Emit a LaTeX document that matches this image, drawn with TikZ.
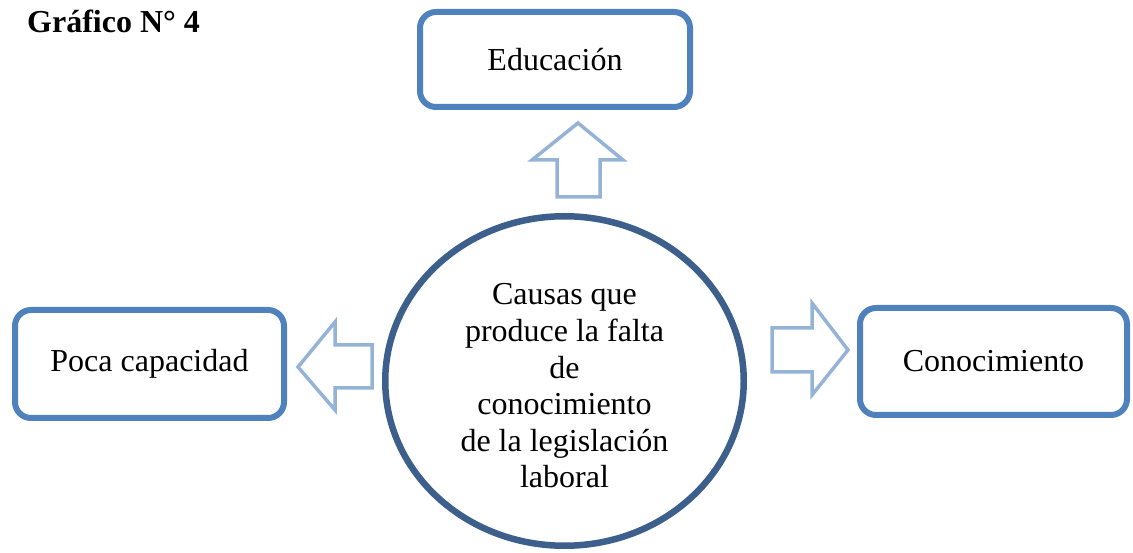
\documentclass[tikz,border=0pt]{standalone}
\usepackage{fontspec}
\setmainfont{Liberation Serif}
\usetikzlibrary{shapes.geometric}
\definecolor{boxblue}{RGB}{79,129,189}
\definecolor{arrowblue}{RGB}{149,179,215}
\definecolor{circblue}{RGB}{60,95,140}
\tikzset{
  rbox/.style={draw=boxblue, line width=6pt, rounded corners=16pt, fill=white,
    inner sep=0pt, font=\fontsize{32}{36}\selectfont},
  blockarrow/.style={draw=arrowblue, line width=3.5pt, line join=miter, fill=white},
  centre/.style={draw=circblue, line width=6.5pt, ellipse, inner sep=0pt},
  ctext/.style={align=center, font=\fontsize{32}{36.6}\selectfont},
  title/.style={font=\fontsize{32}{36}\selectfont\bfseries, inner sep=0pt}
}
\begin{document}
\begin{tikzpicture}[x=1pt,y=1pt]
\useasboundingbox (0,0) rectangle (1133,552);
% title
\node[title, anchor=base west] (titulo) at (27,519) {Gráfico N° 4};
% boxes
\node[rbox, minimum width=270pt, minimum height=95pt] (edu) at (555,492.5) {Educación};
\node[rbox, minimum width=269pt, minimum height=108pt] (poca) at (149.5,188) {Poca capacidad};
\node[rbox, minimum width=267pt, minimum height=107pt] (cono) at (993.5,190.5) {Conocimiento};
% central ellipse
\node[centre, minimum width=358.5pt, minimum height=329.5pt] (causa) at (564.5,171) {};
\node[ctext] (causatxt) at (564.5,166) {Causas que\\produce la falta\\de\\conocimiento\\de la legislación\\laboral};
% block arrows
\draw[blockarrow] (578,429) -- (623,392) -- (600,392) -- (600,355) -- (557,355) -- (557,392) -- (532,392) -- cycle;
\draw[blockarrow] (298,185) -- (335,230) -- (335,207) -- (372,207) -- (372,164) -- (335,164) -- (335,142) -- cycle;
\draw[blockarrow] (848,202) -- (812,249) -- (812,224) -- (772,224) -- (772,180) -- (812,180) -- (812,157) -- cycle;
\end{tikzpicture}
\end{document}
